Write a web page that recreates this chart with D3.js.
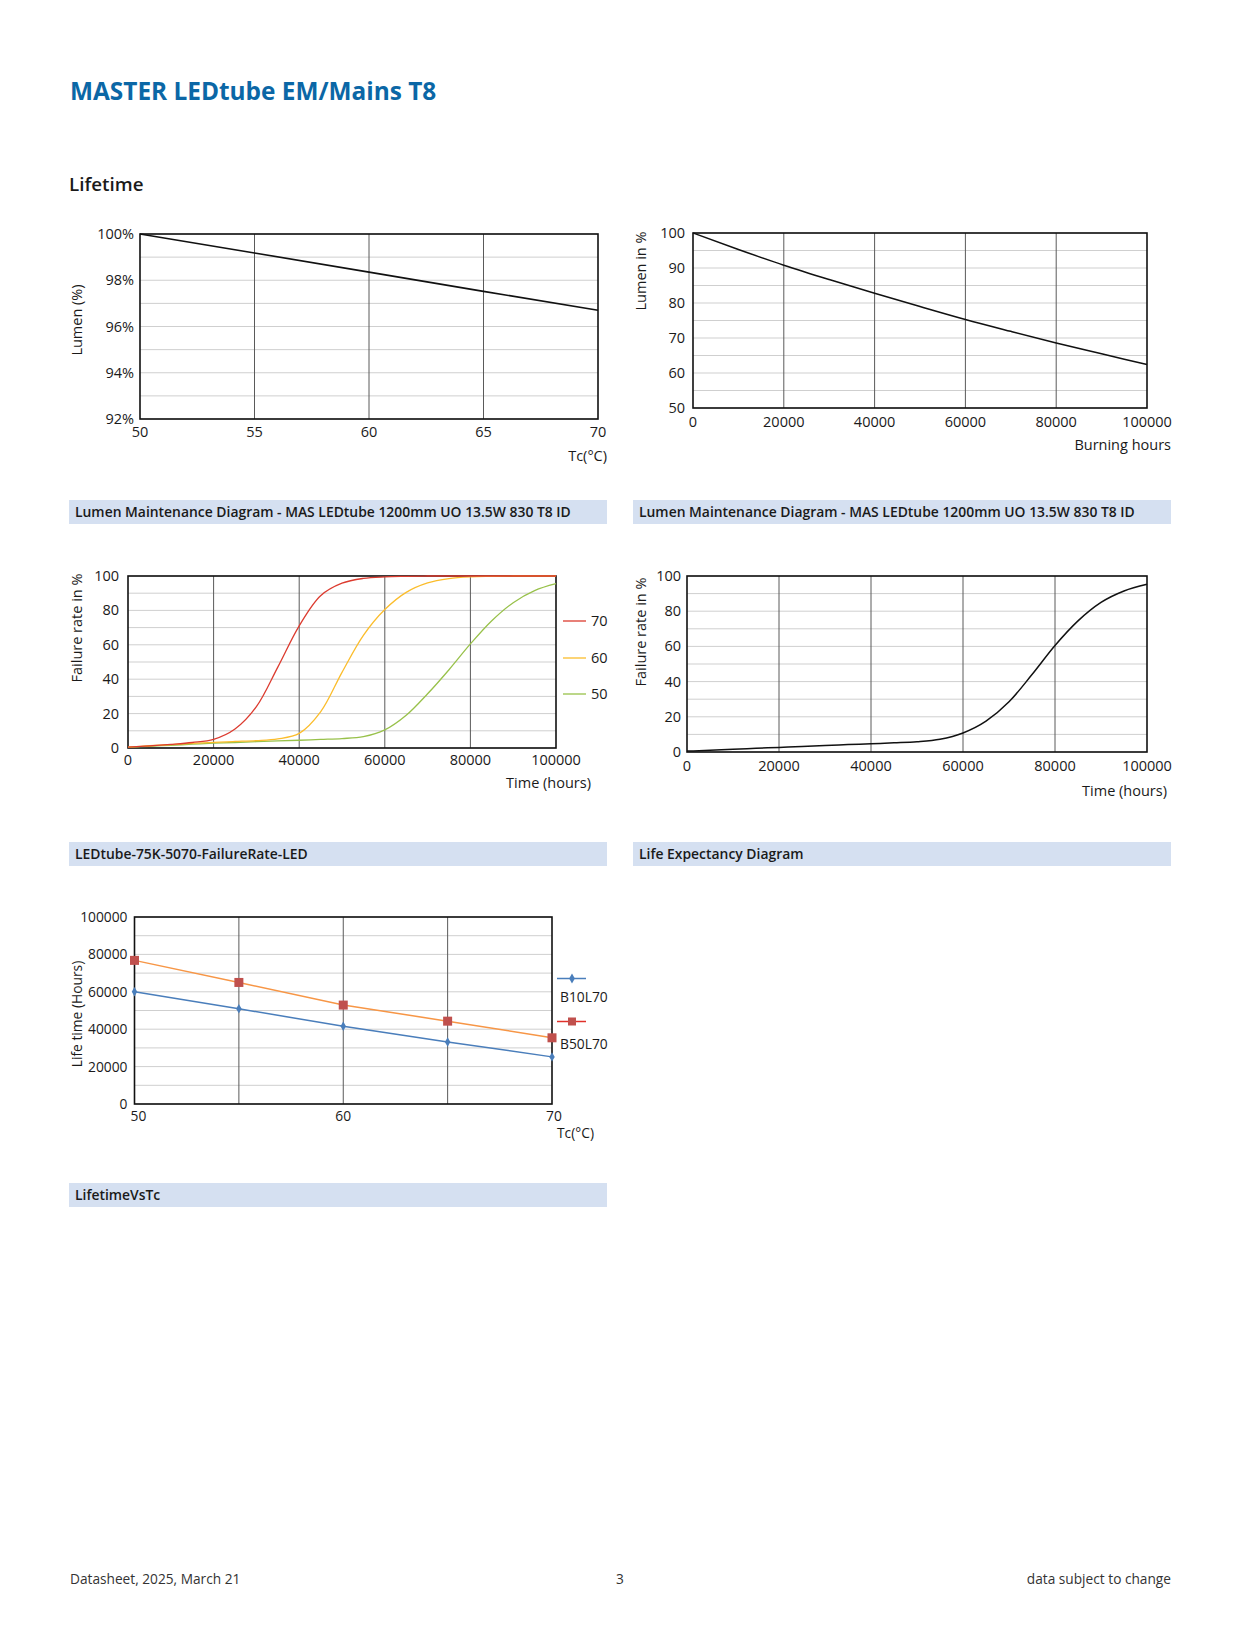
<!DOCTYPE html>
<html>
<head>
<meta charset="utf-8">
<script src="https://cdn.jsdelivr.net/npm/d3@7"></script>
<style>
  body { margin: 0; background: #fff; }
  svg { display: block; }
  text { font-family: "Open Sans", "Noto Sans", sans-serif; fill: #1a1a1a; }
</style>
</head>
<body>
<svg id="page" width="1240" height="1648"></svg>
<script>
// ---- data ----
var tcTemps = [50, 55, 60, 65, 70];
var lumenVsTc = [100, 99.18, 98.35, 97.52, 96.7];

var burnHours = [0, 10000, 20000, 30000, 40000, 50000, 60000, 70000, 80000, 90000, 100000];
var lumenVsHours = [100, 95.3, 90.8, 86.7, 82.8, 79.0, 75.3, 71.9, 68.6, 65.5, 62.4];

var failHours = [0, 5000, 10000, 15000, 20000, 25000, 30000, 35000, 40000, 45000, 50000,
                 55000, 60000, 65000, 70000, 75000, 80000, 85000, 90000, 95000, 100000];
var fail70 = [0.5, 1.2, 2.1, 3.2, 5.0, 11, 24, 47, 71, 88.5, 95.8, 98.6, 99.5, 99.8, 100, 100, 100, 100, 100, 100, 100];
var fail60 = [0.5, 1.3, 2.0, 2.7, 3.3, 3.8, 4.3, 5.3, 8.5, 21, 44, 65.5, 80.5, 90.5, 96, 98.5, 99.5, 99.8, 100, 100, 100];
var fail50 = [0.5, 1.0, 1.6, 2.2, 2.8, 3.2, 3.7, 4.1, 4.5, 5.0, 5.5, 6.6, 10.5, 19, 31.5, 45.5, 60.5, 74, 84.5, 91.5, 95.5];
var failSeries = ["70", "60", "50"];

var lifeExpectancy = [0.5, 1.0, 1.6, 2.1, 2.6, 3.1, 3.7, 4.2, 4.7, 5.2, 5.8, 7.2, 10.8, 17.5, 28.5, 44, 60.5, 74.5, 85, 91.5, 95.3];

var b10l70 = [60000, 50900, 41600, 33200, 25200];
var b50l70 = [76800, 65000, 52900, 44300, 35400];

var captions = [
  "Lumen Maintenance Diagram - MAS LEDtube 1200mm UO 13.5W 830 T8 ID",
  "Lumen Maintenance Diagram - MAS LEDtube 1200mm UO 13.5W 830 T8 ID",
  "LEDtube-75K-5070-FailureRate-LED",
  "Life Expectancy Diagram",
  "LifetimeVsTc"
];

var svg = d3.select("#page");

// page header
svg.append("text")
  .attr("x", 70).attr("y", 100)
  .style("font-size", "24.4px").style("font-weight", "700").style("fill", "#0b67a6")
  .text("MASTER LEDtube EM/Mains T8");

svg.append("text")
  .attr("x", 69).attr("y", 191)
  .style("font-size", "18.8px").style("font-weight", "600")
  .text("Lifetime");

// grey caption bars under every chart
function caption(x, y, w, label) {
  svg.append("rect").attr("x", x).attr("y", y).attr("width", w).attr("height", 24)
    .style("fill", "#d5e0f1");
  svg.append("text").attr("x", x + 6).attr("y", y + 17)
    .style("font-size", "13.9px").style("font-weight", "600")
    .text(label);
}
caption(69, 500, 538, captions[0]);
caption(633, 500, 538, captions[1]);
caption(69, 842, 538, captions[2]);
caption(633, 842, 538, captions[3]);
caption(69, 1183, 538, captions[4]);

// frame with grid, border and tick labels
function frame(box, xDom, yDom, hStep, vTicks, xLabels, yLabels, fmtY, opt) {
  var x = d3.scaleLinear().domain(xDom).range([box.left, box.right]);
  var y = d3.scaleLinear().domain(yDom).range([box.bottom, box.top]);
  var g = svg.append("g");

  // minor horizontal grid
  g.selectAll(".h").data(d3.range(yDom[0], yDom[1] + 1e-9, hStep)).enter()
    .append("line")
      .attr("x1", box.left).attr("x2", box.right)
      .attr("y1", function(d) { return y(d); }).attr("y2", function(d) { return y(d); })
      .style("stroke", "#cfcfcf").style("stroke-width", 1);

  // vertical grid
  g.selectAll(".v").data(vTicks).enter()
    .append("line")
      .attr("y1", box.top).attr("y2", box.bottom)
      .attr("x1", function(d) { return x(d); }).attr("x2", function(d) { return x(d); })
      .style("stroke", "#5a5a5a").style("stroke-width", 1);

  g.append("rect")
    .attr("x", box.left).attr("y", box.top)
    .attr("width", box.right - box.left).attr("height", box.bottom - box.top)
    .style("fill", "none").style("stroke", "#111").style("stroke-width", 1.6);

  g.selectAll(".yl").data(yLabels).enter()
    .append("text")
      .attr("x", box.left - opt.yPad)
      .attr("y", function(d) { return y(d) + 5; })
      .attr("text-anchor", "end")
      .style("font-size", opt.fs + "px")
      .text(fmtY);

  g.selectAll(".xl").data(xLabels).enter()
    .append("text")
      .attr("x", function(d) { return x(d) + (opt.xShift ? opt.xShift(d) : 0); })
      .attr("y", box.bottom + opt.xPad)
      .attr("text-anchor", "middle")
      .style("font-size", opt.fs + "px")
      .text(function(d) { return d; });

  return {x: x, y: y, g: g};
}

function yTitle(cx, cy, label, fs) {
  svg.append("text")
    .attr("transform", "translate(" + cx + "," + cy + ") rotate(-90)")
    .attr("text-anchor", "middle").attr("dy", "0.35em")
    .style("font-size", fs + "px")
    .text(label);
}

function xTitle(x, y, label, anchor, fs) {
  svg.append("text").attr("x", x).attr("y", y)
    .attr("text-anchor", anchor)
    .style("font-size", fs + "px")
    .text(label);
}

// ---- chart 1: lumen vs Tc ----
var c1 = frame({left: 140, top: 234, right: 598, bottom: 419}, [50, 70], [92, 100], 1,
  [55, 60, 65], [50, 55, 60, 65, 70], [92, 94, 96, 98, 100],
  function(d) { return d + "%"; }, {fs: 14.5, yPad: 6, xPad: 18});
c1.g.append("path")
  .datum(tcTemps.map(function(t, i) { return [t, lumenVsTc[i]]; }))
  .attr("d", d3.line().x(function(d) { return c1.x(d[0]); }).y(function(d) { return c1.y(d[1]); }))
  .style("fill", "none").style("stroke", "#111").style("stroke-width", 1.6);
yTitle(77, 320, "Lumen (%)", 14.5);
xTitle(607, 461, "Tc(°C)", "end", 14.5);

// ---- chart 2: lumen vs burning hours ----
var c2 = frame({left: 693, top: 233, right: 1147, bottom: 408}, [0, 100000], [50, 100], 5,
  [20000, 40000, 60000, 80000], [0, 20000, 40000, 60000, 80000, 100000], [50, 60, 70, 80, 90, 100],
  function(d) { return d; }, {fs: 14.5, yPad: 8, xPad: 19});
c2.g.append("path")
  .datum(burnHours.map(function(h, i) { return [h, lumenVsHours[i]]; }))
  .attr("d", d3.line().curve(d3.curveMonotoneX)
    .x(function(d) { return c2.x(d[0]); }).y(function(d) { return c2.y(d[1]); }))
  .style("fill", "none").style("stroke", "#111").style("stroke-width", 1.5);
yTitle(641, 271, "Lumen in %", 14.5);
xTitle(1171, 450, "Burning hours", "end", 14.5);

// ---- chart 3: failure rate, three Tc ----
var c3 = frame({left: 128, top: 576, right: 556, bottom: 748}, [0, 100000], [0, 100], 10,
  [20000, 40000, 60000, 80000], [0, 20000, 40000, 60000, 80000, 100000], [0, 20, 40, 60, 80, 100],
  function(d) { return d; }, {fs: 14.5, yPad: 9, xPad: 17});
var failColor = d3.scaleOrdinal().domain(failSeries).range(["#dc3b2f", "#fbbd2c", "#98c14a"]);
var failData = {"70": fail70, "60": fail60, "50": fail50};
var failLine = d3.line().curve(d3.curveCatmullRom.alpha(0.5))
  .x(function(d) { return c3.x(d[0]); })
  .y(function(d) { return c3.y(Math.min(100, d[1])); });
failSeries.slice().reverse().forEach(function(s) {
  c3.g.append("path")
    .datum(failHours.map(function(h, i) { return [h, failData[s][i]]; }))
    .attr("d", failLine)
    .style("fill", "none").style("stroke", failColor(s)).style("stroke-width", 1.3);
});
var legend3 = svg.append("g").selectAll("g").data(failSeries).enter().append("g")
  .attr("transform", function(d, i) { return "translate(563," + [621, 658, 694][i] + ")"; });
legend3.append("line").attr("x1", 0).attr("x2", 23)
  .style("stroke", function(d) { return failColor(d); }).style("stroke-width", 1.3);
legend3.append("text").attr("x", 28).attr("y", 5).style("font-size", "14.5px")
  .text(function(d) { return d; });
yTitle(77, 628, "Failure rate in %", 14.5);
xTitle(591, 788, "Time (hours)", "end", 14.5);

// ---- chart 4: life expectancy ----
var c4 = frame({left: 687, top: 576, right: 1147, bottom: 752}, [0, 100000], [0, 100], 10,
  [20000, 40000, 60000, 80000], [0, 20000, 40000, 60000, 80000, 100000], [0, 20, 40, 60, 80, 100],
  function(d) { return d; }, {fs: 14.5, yPad: 6, xPad: 19});
c4.g.append("path")
  .datum(failHours.map(function(h, i) { return [h, lifeExpectancy[i]]; }))
  .attr("d", d3.line().curve(d3.curveMonotoneX)
    .x(function(d) { return c4.x(d[0]); }).y(function(d) { return c4.y(d[1]); }))
  .style("fill", "none").style("stroke", "#111").style("stroke-width", 1.5);
yTitle(641, 632, "Failure rate in %", 14.5);
xTitle(1167, 796, "Time (hours)", "end", 14.5);

// ---- chart 5: lifetime vs Tc ----
var c5 = frame({left: 134.5, top: 917, right: 552, bottom: 1104}, [50, 70], [0, 100000], 10000,
  [55, 60, 65], [50, 60, 70], [0, 20000, 40000, 60000, 80000, 100000],
  function(d) { return d; }, {fs: 13.8, yPad: 7, xPad: 17,
    xShift: function(d) { return d === 50 ? 4 : (d === 70 ? 2 : 0); }});
var lineTc = d3.line().x(function(d) { return c5.x(d[0]); }).y(function(d) { return c5.y(d[1]); });
var b10 = tcTemps.map(function(t, i) { return [t, b10l70[i]]; });
var b50 = tcTemps.map(function(t, i) { return [t, b50l70[i]]; });
c5.g.append("path").datum(b10).attr("d", lineTc)
  .style("fill", "none").style("stroke", "#4a7ebb").style("stroke-width", 1.5);
c5.g.append("path").datum(b50).attr("d", lineTc)
  .style("fill", "none").style("stroke", "#f79646").style("stroke-width", 1.5);
c5.g.selectAll(".dia").data(b10).enter().append("path")
  .attr("d", d3.symbol().type(d3.symbolDiamond).size(26))
  .attr("transform", function(d) { return "translate(" + c5.x(d[0]) + "," + c5.y(d[1]) + ")"; })
  .style("fill", "#4a7ebb");
c5.g.selectAll(".sq").data(b50).enter().append("rect")
  .attr("x", function(d) { return c5.x(d[0]) - 4.5; })
  .attr("y", function(d) { return c5.y(d[1]) - 4.5; })
  .attr("width", 9).attr("height", 9)
  .style("fill", "#c0504d");

// legend for chart 5
var lg5 = svg.append("g");
lg5.append("line").attr("x1", 557).attr("x2", 586).attr("y1", 978.5).attr("y2", 978.5)
  .style("stroke", "#4a7ebb").style("stroke-width", 1.5);
lg5.append("path").attr("d", d3.symbol().type(d3.symbolDiamond).size(28))
  .attr("transform", "translate(572,978.5)").style("fill", "#4a7ebb");
lg5.append("text").attr("x", 560).attr("y", 1002).style("font-size", "13.8px").text("B10L70");
lg5.append("line").attr("x1", 557).attr("x2", 586).attr("y1", 1021.5).attr("y2", 1021.5)
  .style("stroke", "#e0302a").style("stroke-width", 1.5);
lg5.append("rect").attr("x", 568).attr("y", 1017.5).attr("width", 8).attr("height", 8)
  .style("fill", "#c0504d");
lg5.append("text").attr("x", 560).attr("y", 1049).style("font-size", "13.8px").text("B50L70");
yTitle(77, 1014, "Life time (Hours)", 13.8);
xTitle(557, 1138, "Tc(°C)", "start", 13.8);

// footer
var foot = [["Datasheet, 2025, March 21", 70, "start"], ["3", 620, "middle"], ["data subject to change", 1171, "end"]];
svg.selectAll(".foot").data(foot).enter().append("text")
  .attr("x", function(d) { return d[1]; }).attr("y", 1584)
  .attr("text-anchor", function(d) { return d[2]; })
  .style("font-size", "13.7px").style("fill", "#333")
  .text(function(d) { return d[0]; });
</script>
</body>
</html>
